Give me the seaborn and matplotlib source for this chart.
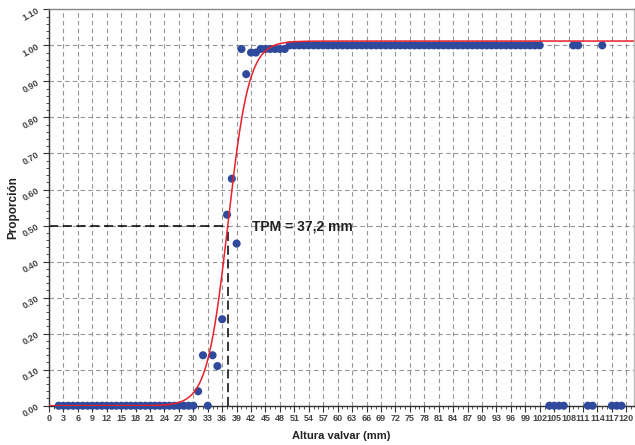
import numpy as np
import pandas as pd
import matplotlib
matplotlib.use("Agg")
import matplotlib.pyplot as plt
from matplotlib.ticker import MultipleLocator, FormatStrFormatter
import seaborn as sns

# Observed proportions by shell height (mm)
heights_zero_low = list(range(2, 31))
prop_zero_low = [0.0] * len(heights_zero_low)

heights_mid = [31, 32, 33, 34, 35, 36, 37, 38, 39, 40, 41, 42, 43]
prop_mid = [0.04, 0.14, 0.0, 0.14, 0.11, 0.24, 0.53, 0.63, 0.45, 0.99, 0.92, 0.98, 0.98]

heights_099 = [44, 45, 46, 47, 48, 49]
prop_099 = [0.99] * len(heights_099)

heights_one = list(range(50, 103))
prop_one = [1.0] * len(heights_one)

heights_tail = [104, 105, 106, 107, 109, 110, 112, 113, 115, 117, 118, 119]
prop_tail = [0, 0, 0, 0, 1, 1, 0, 0, 1, 0, 0, 0]

# Fitted logistic parameters
tpm = 37.2
slope = 0.46
asymptote = 1.012

df = pd.DataFrame({
    "altura": heights_zero_low + heights_mid + heights_099 + heights_one + heights_tail,
    "prop": prop_zero_low + prop_mid + prop_099 + prop_one + prop_tail,
})

xmax = 121.6
curve_x = np.linspace(0, xmax, 600)
curve = pd.DataFrame({"altura": curve_x,
                      "prop": asymptote / (1 + np.exp(-slope * (curve_x - tpm)))})

sns.set_theme(style="white")
plt.rcParams["font.family"] = ["Liberation Sans", "DejaVu Sans"]

fig = plt.figure(figsize=(6.35, 4.45), dpi=100)
ax = fig.add_axes([0.0772, 0.0883, 0.9212, 0.8907])

sns.scatterplot(data=df, x="altura", y="prop", ax=ax, s=34, color="#2f4a9c",
                edgecolor="none", zorder=3, clip_on=False)
sns.lineplot(data=curve, x="altura", y="prop", ax=ax, color="#e8202a",
             linewidth=1.1, zorder=4)

# TPM guide lines
ax.plot([0, tpm], [0.5, 0.5], color="black", linestyle=(0, (6, 3)), linewidth=1.1, zorder=2)
ax.plot([tpm, tpm], [0, 0.5], color="black", linestyle=(0, (6, 3)), linewidth=1.1, zorder=2)
ax.text(42.2, 0.497, "TPM = 37,2 mm", fontsize=10, fontweight="bold",
        color="#222222", va="center", ha="left")

ax.set_xlim(0, xmax)
ax.set_ylim(0, 1.1)
ax.xaxis.set_major_locator(MultipleLocator(3))
ax.xaxis.set_minor_locator(MultipleLocator(1))
ax.yaxis.set_major_locator(MultipleLocator(0.1))
ax.yaxis.set_minor_locator(MultipleLocator(0.02))
ax.yaxis.set_major_formatter(FormatStrFormatter("%.2f"))

ax.grid(True, which="major", color="#959595", linestyle=(0, (4, 3)), linewidth=0.8)
ax.set_axisbelow(True)

for spine in ax.spines.values():
    spine.set_color("#333333")
    spine.set_linewidth(1.0)
ax.spines["right"].set_color("#bbbbbb")
ax.spines["top"].set_color("#888888")

ax.tick_params(axis="both", which="major", direction="out", length=4, width=0.8,
               color="#333333", labelsize=6.5, labelcolor="#444444", pad=2)
ax.tick_params(axis="both", which="minor", direction="out", length=2.5, width=0.6,
               color="#333333")
ax.tick_params(axis="both", bottom=True, left=True, which="both")
for lab in ax.get_xticklabels():
    lab.set_fontweight("bold")
for lab in ax.get_yticklabels():
    lab.set_fontweight("bold")
    lab.set_rotation(30)

ax.set_xlabel("Altura valvar (mm)", fontsize=8, fontweight="bold", color="#222222", labelpad=6)
ax.set_ylabel("Proporción", fontsize=8.5, fontweight="bold", color="#222222", labelpad=1)

fig.savefig("out.png", dpi=100)
